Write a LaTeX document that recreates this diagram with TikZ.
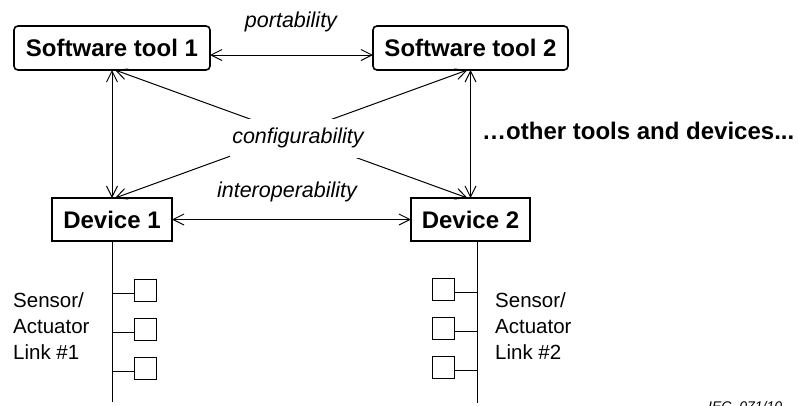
\documentclass[tikz,border=0pt]{standalone}
\usepackage{fontspec}
\setmainfont{Liberation Sans}
\usetikzlibrary{arrows.meta,calc}
\begin{document}
\begin{tikzpicture}[x=1pt,y=-1pt,
  tool/.style={draw,line width=1.6pt,rounded corners=4pt,minimum height=44pt,inner sep=0pt,outer sep=0pt,font=\fontsize{24}{28}\selectfont\bfseries},
  dev/.style={draw,line width=2pt,minimum height=43pt,inner sep=0pt,outer sep=0pt,font=\fontsize{24}{28}\selectfont\bfseries},
  arr/.style={line width=1pt,{Straight Barb[length=11pt,width=11pt]}-{Straight Barb[length=11pt,width=11pt]}},
  lbl/.style={font=\fontsize{21.5}{24}\selectfont\itshape,inner sep=0pt},
  sq/.style={draw,line width=1pt,minimum size=22pt,inner sep=0pt,outer sep=0pt},
  wire/.style={line width=1pt},
  sal/.style={align=left,font=\fontsize{20.5}{26}\selectfont,inner sep=0pt,anchor=west}]
\clip (0,0) rectangle (798,405);
\useasboundingbox (0,0) rectangle (798,405);
% boxes
\node[tool,minimum width=196pt] (st1) at (112,48) {Software tool 1};
\node[tool,minimum width=195pt] (st2) at (470.5,48) {Software tool 2};
\node[dev,minimum width=120pt] (d1) at (112,219.5) {Device 1};
\node[dev,minimum width=119pt] (d2) at (470.5,219.5) {Device 2};
% arrows
\draw[arr] ([yshift=-7pt]st1.east) -- ([yshift=-7pt]st2.west);
\node[lbl] (port) at (291,22) {portability};
\draw[arr] (st1.south) -- (d1.north);
\draw[arr] (st2.south) -- (d2.north);
\draw[arr] ([xshift=3pt]st1.south) -- ([xshift=-3pt]d2.north);
\draw[arr] ([xshift=-3pt]st2.south) -- ([xshift=3pt]d1.north);
\node[lbl,fill=white,inner xsep=2pt,minimum height=39pt] (cfg) at (298,138) {configurability};
\draw[arr] (d1.east) -- (d2.west);
\node[lbl] (iop) at (287,192) {interoperability};
\node[font=\fontsize{24}{28}\selectfont\bfseries,anchor=west,inner sep=0pt] (oth) at (482,131) {…other tools and devices...};
% buses
\coordinate (b1) at (112,402);
\draw[wire] (d1.south) -- (b1);
\coordinate (b2) at (477,403);
\draw[wire] ([xshift=6.5pt]d2.south) -- (b2);
% left devices
\node[sq] (l1) at (145,290.5) {};
\node[sq] (l2) at (145,329) {};
\node[sq] (l3) at (145,368) {};
\foreach \n in {l1,l2,l3} \draw[wire] ([yshift=-3pt]\n.west) -- ([yshift=-3pt]\n.west -| b1);
% right devices
\node[sq] (r1) at (443.5,289.5) {};
\node[sq] (r2) at (443.5,328) {};
\node[sq] (r3) at (443.5,367) {};
\foreach \n in {r1,r2,r3} \draw[wire] ([yshift=-3pt]\n.east) -- ([yshift=-3pt]\n.east -| b2);
% labels
\node[sal] (sa1) at (13,326) {Sensor/\\Actuator\\Link \#1};
\node[sal] (sa2) at (495,326) {Sensor/\\Actuator\\Link \#2};
\node[anchor=north west,font=\fontsize{14}{16}\selectfont\itshape,inner sep=0pt] (iec) at (708,401.5) {IEC\ \ 071/10};
\end{tikzpicture}
\end{document}
